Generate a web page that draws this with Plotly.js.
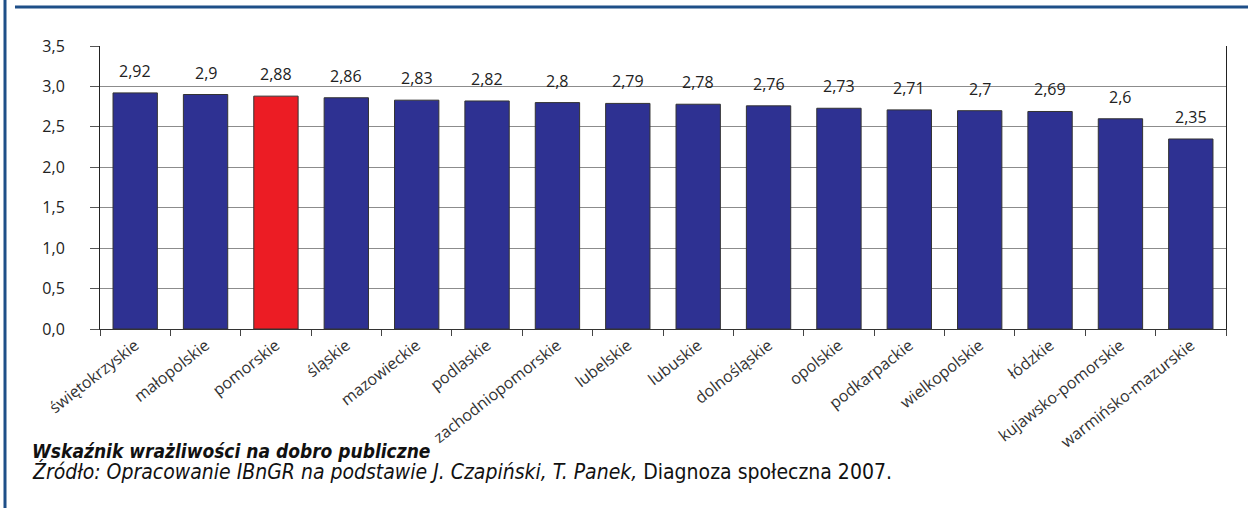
<!DOCTYPE html>
<html>
<head>
<meta charset="utf-8">
<script src="https://cdn.plot.ly/plotly-3.0.1.min.js"></script>
<style>
html,body{margin:0;padding:0;background:#fff;}
#chart{width:1248px;height:508px;}
</style>
</head>
<body>
<div id="chart"></div>
<script>
const categories = ["świętokrzyskie","małopolskie","pomorskie","śląskie","mazowieckie","podlaskie","zachodniopomorskie","lubelskie","lubuskie","dolnośląskie","opolskie","podkarpackie","wielkopolskie","łódzkie","kujawsko-pomorskie","warmińsko-mazurskie"];
const values = [2.92,2.9,2.88,2.86,2.83,2.82,2.8,2.79,2.78,2.76,2.73,2.71,2.7,2.69,2.6,2.35];
const highlight = "pomorskie";
const yTicks = [0,0.5,1,1.5,2,2.5,3,3.5];
const yTickLabels = ["0,0","0,5","1,0","1,5","2,0","2,5","3,0","3,5"];
const captionTitle = "Wskaźnik wrażliwości na dobro publiczne";
const captionSource = "Źródło: Opracowanie IBnGR na podstawie J. Czapiński, T. Panek,";
const captionBook = "Diagnoza społeczna 2007.";

const font = "'Open Sans', 'Noto Sans', sans-serif";
const narrow = "'Liberation Sans Narrow', 'DejaVu Sans Condensed', sans-serif";
const barColors = categories.map(c => c === highlight ? "#ec1c24" : "#2e3192");

const trace = {
  type: "bar",
  x: categories,
  y: values,
  marker: {color: barColors, line: {color: "#333", width: 1}},
  hoverinfo: "skip"
};

const valueAnnotations = categories.map((c, i) => ({
  x: c, y: values[i], xref: "x", yref: "y",
  text: values[i].toString().replace(".", ","),
  showarrow: false, yanchor: "bottom", yshift: 9,
  font: {family: font, size: 16, color: "#222"}
}));

const captionAnnotations = [
  {xref: "paper", yref: "paper", x: -0.062, y: 0, yshift: -122, xanchor: "left", yanchor: "middle",
   text: "<b><i>" + captionTitle + "</i></b>", showarrow: false, align: "left",
   font: {family: narrow, size: 19, color: "#111"}},
  {xref: "paper", yref: "paper", x: -0.062, y: 0, yshift: -142, xanchor: "left", yanchor: "middle",
   text: "<i>" + captionSource + "</i> " + captionBook, showarrow: false, align: "left",
   font: {family: narrow, size: 21, color: "#111"}}
];

const layout = {
  width: 1248, height: 508,
  margin: {l: 100, r: 22, t: 46, b: 179},
  paper_bgcolor: "#fff", plot_bgcolor: "#fff",
  showlegend: false,
  bargap: 0.37,
  xaxis: {
    type: "category",
    tickangle: -38,
    tickson: "boundaries",
    ticks: "outside", ticklen: 6, tickcolor: "#444",
    showline: true, linecolor: "#333", linewidth: 1,
    tickfont: {family: font, size: 16, color: "#333"},
    showgrid: false, fixedrange: true
  },
  yaxis: {
    range: [0, 3.5],
    tickvals: yTicks, ticktext: yTickLabels,
    ticks: "outside", ticklen: 9, tickcolor: "#555",
    showline: true, linecolor: "#222", linewidth: 1, mirror: true,
    showgrid: true, gridcolor: "#8c8c8c", gridwidth: 1,
    zeroline: false,
    tickfont: {family: font, size: 16, color: "#222"},
    ticklabelstandoff: 22,
    fixedrange: true
  },
  annotations: valueAnnotations.concat(captionAnnotations),
  shapes: [
    {type: "line", xref: "paper", yref: "paper", x0: -0.0755, x1: 1.1, ysizemode: "pixel", yanchor: 1, y0: 39, y1: 39,
     line: {color: "#1e4f88", width: 3}},
    {type: "line", xref: "paper", yref: "paper", xsizemode: "pixel", xanchor: 0, x0: -95, x1: -95, y0: -1, y1: 1.2,
     line: {color: "#1e4f88", width: 3}}
  ]
};

Plotly.newPlot("chart", [trace], layout, {displayModeBar: false, staticPlot: true});
</script>
</body>
</html>
